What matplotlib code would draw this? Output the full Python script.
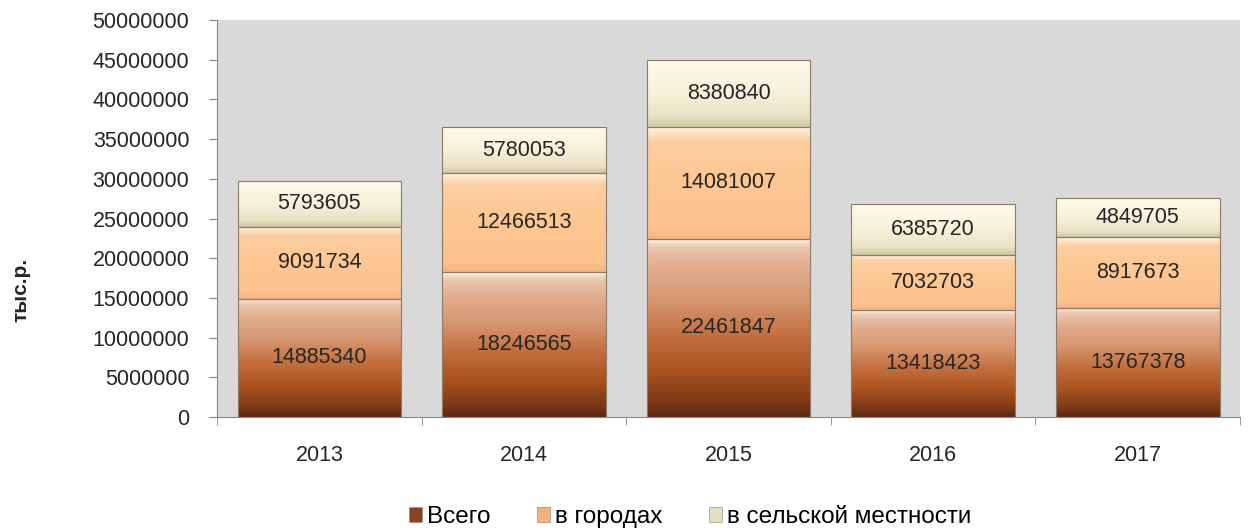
import matplotlib
matplotlib.use("Agg")
import matplotlib.pyplot as plt
import numpy as np
from matplotlib.colors import LinearSegmentedColormap
from matplotlib.patches import Patch

years = ["2013", "2014", "2015", "2016", "2017"]
total = [14885340, 18246565, 22461847, 13418423, 13767378]
towns = [9091734, 12466513, 14081007, 7032703, 8917673]
rural = [5793605, 5780053, 8380840, 6385720, 4849705]
series_names = ["Всего", "в городах", "в сельской местности"]

plt.rcParams["font.family"] = ["Liberation Sans", "DejaVu Sans"]

# gradients run bottom -> top (last stop = bevel highlight)
grad_total = LinearSegmentedColormap.from_list("total", [
    (0.0, "#5a2810"), (0.08, "#7c3818"), (0.25, "#a8521f"), (0.45, "#c26e3e"),
    (0.65, "#d69670"), (0.85, "#e2b092"), (0.95, "#ecc8b0"), (1.0, "#fdf0e0")])
grad_towns = LinearSegmentedColormap.from_list("towns", [
    (0.0, "#f4b480"), (0.1, "#fcc290"), (0.6, "#fdc894"), (0.88, "#fdcfa2"), (1.0, "#fff4e4")])
grad_rural = LinearSegmentedColormap.from_list("rural", [
    (0.0, "#d0c8a4"), (0.15, "#e8e2c4"), (0.5, "#f5f1da"), (0.85, "#faf7e6"), (1.0, "#fffbe8")])
legend_colors = ["#8a4520", "#f4b27c", "#e4dfc4"]

fig = plt.figure(figsize=(12.48, 5.28), dpi=100)
ax = fig.add_axes([0.174, 0.2102, 0.8196, 0.7518])
ax.set_facecolor("#d9d9d9")

x = np.arange(len(years))
grad = np.linspace(0, 1, 256).reshape(-1, 1)
bottom = np.zeros(len(years))
for vals, cmap in [(total, grad_total), (towns, grad_towns), (rural, grad_rural)]:
    bars = ax.bar(x, vals, width=0.8, bottom=bottom, color="none",
                  edgecolor="#8c7a68", linewidth=0.8, zorder=3)
    for bar, v in zip(bars, vals):
        x0, y0 = bar.get_x(), bar.get_y()
        im = ax.imshow(grad, cmap=cmap, origin="lower", aspect="auto",
                       extent=(x0, x0 + bar.get_width(), y0, y0 + bar.get_height()),
                       zorder=2)
        im.set_clip_path(bar)
        ax.text(bar.get_x() + bar.get_width() / 2, y0 + bar.get_height() / 2,
                str(v), ha="center", va="center", fontsize=15.5,
                color="#262626", zorder=4)
    bottom = bottom + np.array(vals)

ax.set_xlim(-0.5, 4.5)
ax.set_ylim(0, 50000000)
ax.set_yticks(np.arange(0, 50000001, 5000000))
ax.set_yticklabels([str(v) for v in range(0, 50000001, 5000000)])
ax.set_xticks(x)
ax.set_xticklabels(years)
ax.set_xticks(np.arange(-0.5, 4.6, 1), minor=True)
ax.tick_params(axis="x", which="major", length=0, pad=20)
ax.tick_params(axis="x", which="minor", length=6, color="#868686")
ax.tick_params(axis="y", length=6, color="#868686", pad=14)
ax.tick_params(labelsize=15.5, labelcolor="#262626")
for s in ["top", "right"]:
    ax.spines[s].set_visible(False)
for s in ["left", "bottom"]:
    ax.spines[s].set_color("#868686")

fig.text(0.017, 0.45, "тыс.р.", rotation=90, ha="center", va="center",
         fontsize=15, fontweight="bold", color="#262626")

handles = [Patch(facecolor=c, edgecolor="#a09080", linewidth=0.5) for c in legend_colors]
fig.legend(handles, series_names, loc="center", bbox_to_anchor=(0.553, 0.021),
           ncol=3, frameon=False, fontsize=17.5, handlelength=0.55,
           handleheight=0.55, handletextpad=0.2, columnspacing=1.9,
           borderpad=0, borderaxespad=0)

fig.savefig("out.png", dpi=100)
